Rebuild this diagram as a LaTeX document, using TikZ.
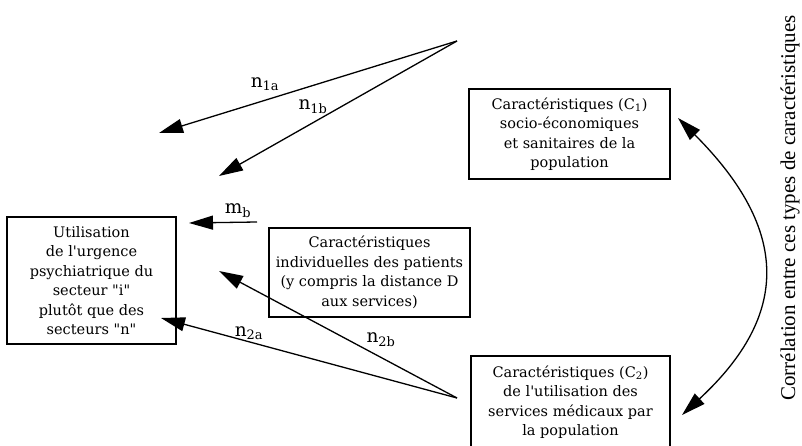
\documentclass[tikz,border=0pt]{standalone}
\usepackage{fontspec}
\setmainfont{DejaVu Serif}[Ligatures=TeXOff]
\newfontfamily\timesf{Liberation Serif}
\usetikzlibrary{arrows.meta}
\begin{document}
\begin{tikzpicture}[x=1pt,y=-1pt,
  box/.style={draw, line width=1.2pt, align=center, inner sep=0pt,
    font=\fontsize{14.5}{19.5}\selectfont},
  arr/.style={line width=1.3pt, -{Triangle[length=24pt,width=14pt]}},
  dblarr/.style={line width=1.3pt, {Triangle[length=24pt,width=14pt]}-{Triangle[length=24pt,width=14pt]}},
  lbl/.style={font=\fontsize{18.5}{20}\selectfont, inner sep=0pt},
  rot/.style={font=\timesf\fontsize{21}{23}\selectfont, rotate=90, inner sep=0pt}]
\useasboundingbox (0,0) rectangle (802,446);

% boxes
\node[box, minimum width=169pt, minimum height=127pt] (util) at (91.5,280.5)
  {Utilisation\\de l'urgence\\psychiatrique du\\secteur "i"\\plutôt que des\\secteurs "n"};
\node[box, minimum width=201pt, minimum height=89pt] (indiv) at (369.5,272.5)
  {Caractéristiques\\individuelles des patients\\(y compris la distance D\\aux services)};
\node[box, minimum width=201pt, minimum height=90pt] (cone) at (569.5,134)
  {Caractéristiques (C\textsubscript{1})\\socio-économiques\\et sanitaires de la\\population};
\begin{scope}
\clip (0,0) rectangle (802,446);
\node[box, minimum width=199pt, minimum height=92pt] (ctwo) at (570.5,402)
  {Caractéristiques (C\textsubscript{2})\\de l'utilisation des\\services médicaux par\\la population};
\end{scope}

% rotated text
\node[rot] (corr) at (790,208) {Corrélation entre ces types de caractéristiques};

% coordinates
\coordinate (o1) at (457,41);
\coordinate (t1a) at (159,133);
\coordinate (t1b) at (219,176);
\coordinate (mbs) at (257,222);
\coordinate (mbt) at (189,223);
\coordinate (o2) at (457,398);
\coordinate (t2a) at (161,318);
\coordinate (t2b) at (219,271);
\coordinate (cta) at (678,118);
\coordinate (ctb) at (682,415);

% arrows
\draw[arr] (o1) -- (t1a);
\draw[arr] (o1) -- (t1b);
\draw[arr] (mbs) -- (mbt);
\draw[arr] (o2) -- (t2a);
\draw[arr] (o2) -- (t2b);
\draw[dblarr] (cta) .. controls (790,230) and (790,315) .. (ctb);

% labels
\node[lbl] (l1a) at (265,84) {n\textsubscript{1a}};
\node[lbl] (l1b) at (313,107) {n\textsubscript{1b}};
\node[lbl] (lmb) at (238,211) {m\textsubscript{b}};
\node[lbl] (l2a) at (249,333) {n\textsubscript{2a}};
\node[lbl] (l2b) at (381,340) {n\textsubscript{2b}};
\end{tikzpicture}
\end{document}
